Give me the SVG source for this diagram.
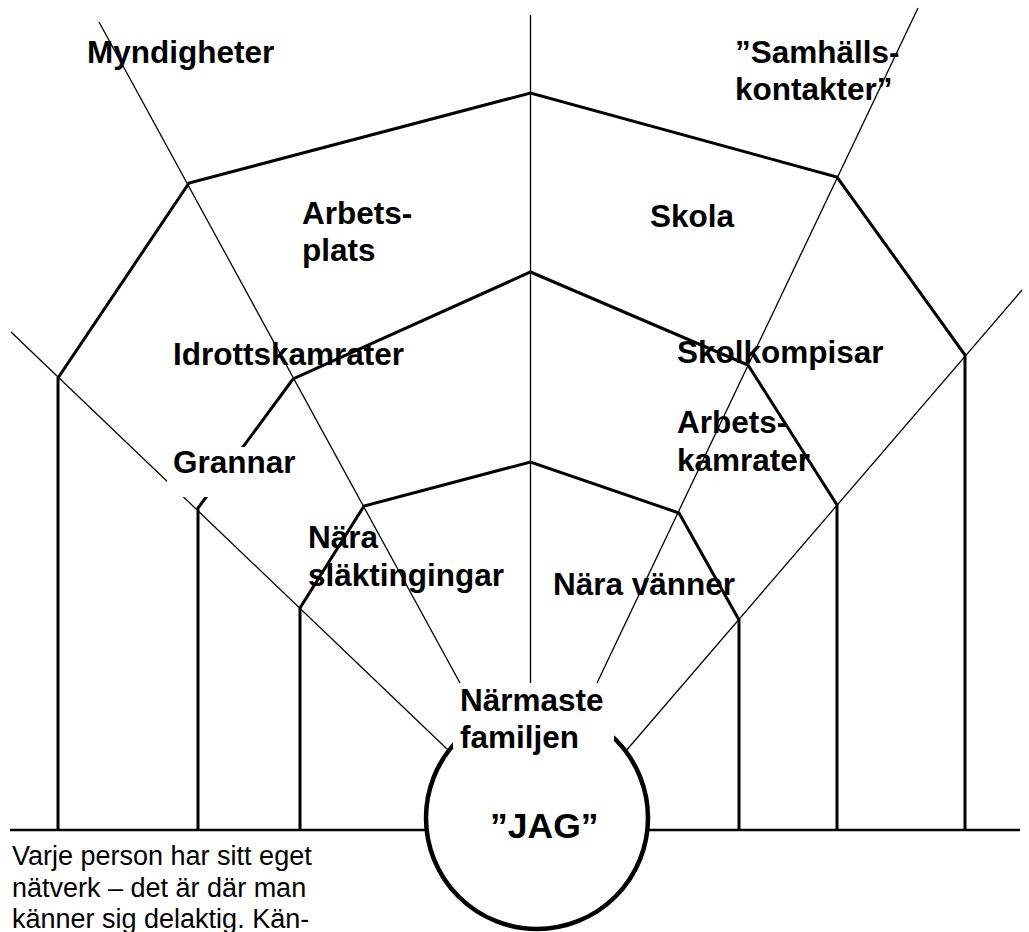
<svg xmlns="http://www.w3.org/2000/svg" width="1029" height="932" viewBox="0 0 1029 932">
<style>
.thin{stroke:#000;stroke-width:1.3;fill:none}
.thick{stroke:#000;stroke-width:3;fill:none;stroke-linejoin:miter}
.base{stroke:#000;stroke-width:2.5;fill:none}
.lbl{font-family:"Liberation Sans",Arial,sans-serif;font-weight:bold;font-size:31.5px;fill:#000}
.body{font-family:"Liberation Sans",Arial,sans-serif;font-size:27px;fill:#000}
</style>
<rect width="1029" height="932" fill="#fff"/>
<g id="connectors">
  <line class="thin" x1="530.5" y1="15" x2="530.5" y2="683"/>
  <line class="thin" x1="99" y1="22" x2="460" y2="683"/>
  <line class="thin" x1="918" y1="8" x2="597" y2="683"/>
  <line class="thin" x1="11" y1="332" x2="447" y2="749"/>
  <line class="thin" x1="1022" y1="290" x2="625" y2="752"/>
  <polyline class="thick" points="58,830 58,378 189,183 530.5,93 837,177 965,355 965,830"/>
  <polyline class="thick" points="198,830 198,508 293,379 530.5,272 748,365 837,505 837,830"/>
  <polyline class="thick" points="300,830 300,608 364,506 530.5,462 679,513 739,620 739,830"/>
  <line class="base" x1="10" y1="830" x2="430" y2="830"/>
  <line class="base" x1="640" y1="830" x2="1020" y2="830"/>
</g>
<g id="jag">
  <circle cx="537" cy="818" r="111" fill="#fff" stroke="#000" stroke-width="4.5"/>
  <text class="lbl" x="490" y="838" style="font-size:35.5px">”JAG”</text>
</g>
<g id="narmaste-familjen">
  <rect x="453" y="683" width="161" height="65" fill="#fff"/>
  <text class="lbl" x="460" y="711">Närmaste</text>
  <text class="lbl" x="460" y="748">familjen</text>
</g>
<g id="grannar">
  <rect x="167" y="447" width="128" height="50" fill="#fff"/>
  <text class="lbl" x="173" y="473">Grannar</text>
</g>
<g id="myndigheter"><text class="lbl" x="87" y="63">Myndigheter</text></g>
<g id="samhallskontakter">
  <text class="lbl" x="735" y="63">”Samhälls-</text>
  <text class="lbl" x="735" y="100">kontakter”</text>
</g>
<g id="arbetsplats">
  <text class="lbl" x="302" y="224">Arbets-</text>
  <text class="lbl" x="302" y="261">plats</text>
</g>
<g id="skola"><text class="lbl" x="650" y="227">Skola</text></g>
<g id="idrottskamrater"><text class="lbl" x="173" y="365">Idrottskamrater</text></g>
<g id="skolkompisar"><text class="lbl" x="677" y="363">Skolkompisar</text></g>
<g id="arbetskamrater">
  <text class="lbl" x="677" y="433">Arbets-</text>
  <text class="lbl" x="677" y="471">kamrater</text>
</g>
<g id="nara-slaktingar">
  <text class="lbl" x="308" y="548">Nära</text>
  <text class="lbl" x="308" y="586">släktingingar</text>
</g>
<g id="nara-vanner"><text class="lbl" x="553" y="595">Nära vänner</text></g>
<g id="caption">
  <text class="body" x="12" y="865">Varje person har sitt eget</text>
  <text class="body" x="12" y="897">nätverk – det är där man</text>
  <text class="body" x="12" y="928">känner sig delaktig. Kän-</text>
</g>
</svg>
